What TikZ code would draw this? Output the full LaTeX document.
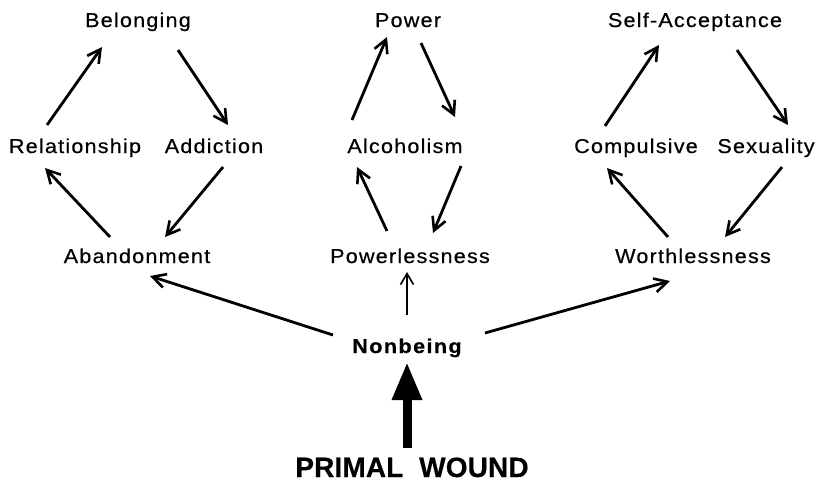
\documentclass[tikz,border=0pt]{standalone}
\usepackage{fontspec}
\setmainfont{Liberation Sans}
\newfontfamily\lbl[LetterSpace=6,FakeStretch=1.08,FakeBold=0.5]{Liberation Sans}
\newfontfamily\lblb[LetterSpace=7,FakeStretch=1.08,FakeBold=0.4]{Liberation Sans Bold}
\newfontfamily\ttl[LetterSpace=0.5,FakeBold=0.4]{Liberation Sans Bold}
\usetikzlibrary{arrows.meta,calc}
\begin{document}
\begin{tikzpicture}[x=1pt,y=-1pt,
  word/.style={anchor=base,inner sep=0pt,font=\lbl\fontsize{20}{22}\selectfont},
  bword/.style={anchor=base,inner sep=0pt,font=\lblb\fontsize{20}{22}\selectfont},
  title/.style={anchor=base,inner sep=0pt,font=\ttl\fontsize{28}{30}\selectfont},
  arr/.style={line width=2.8pt,-{Straight Barb[length=13pt,width=14pt,line width=2.6pt]}},
  thinarr/.style={line width=1.6pt,-{Straight Barb[length=11pt,width=13pt,line width=1.6pt]}},
  bigarr/.style={line width=9pt,-{Triangle[length=38pt,width=28pt]}}]
\useasboundingbox (0,0) rectangle (818,488);
% left cycle
\node[word] (bel) at (138,27) {Belonging};
\node[word] (rel) at (75,153) {Relationship};
\node[word] (add) at (214,153) {Addiction};
\node[word] (aba) at (137,263) {Abandonment};
% middle cycle
\node[word] (pow) at (408,27) {Power};
\node[word] (alc) at (405,153) {Alcoholism};
\node[word] (pwl) at (410,263) {Powerlessness};
% right cycle
\node[word] (sac) at (695,27) {Self-Acceptance};
\node[word] (com) at (636,153) {Compulsive};
\node[word] (sex) at (766,153) {Sexuality};
\node[word] (wor) at (693,263) {Worthlessness};
% bottom
\node[bword] (non) at (407,353) {Nonbeing};
\node[title] (pw) at (412,477) {PRIMAL\ \ WOUND};
% left arrows
\draw[arr] ($(rel.base)+(-28,-28)$) -- ($(bel.base)+(-36,20)$);
\draw[arr] ($(bel.base)+(40,23)$) -- ($(add.base)+(14,-28)$);
\draw[arr] ($(add.base)+(9,14)$) -- ($(aba.base)+(28,-26)$);
\draw[arr] ($(aba.base)+(-27,-26)$) -- ($(rel.base)+(-30,15)$);
% middle arrows
\draw[arr] ($(alc.base)+(-53,-33)$) -- ($(pow.base)+(-21,10)$);
\draw[arr] ($(pow.base)+(13,16)$) -- ($(alc.base)+(50,-36)$);
\draw[arr] ($(alc.base)+(56,13)$) -- ($(pwl.base)+(23,-30)$);
\draw[arr] ($(pwl.base)+(-23,-32)$) -- ($(alc.base)+(-48,14)$);
% right arrows
\draw[arr] ($(com.base)+(-31,-27)$) -- ($(sac.base)+(-36,18)$);
\draw[arr] ($(sac.base)+(42,23)$) -- ($(sex.base)+(22,-28)$);
\draw[arr] ($(sex.base)+(16,14)$) -- ($(wor.base)+(32,-26)$);
\draw[arr] ($(wor.base)+(-25,-26)$) -- ($(com.base)+(-29,15)$);
% from Nonbeing
\draw[arr] ($(non.base)+(-74,-18)$) -- ($(aba.base)+(13,13)$);
\draw[arr] ($(non.base)+(78,-20)$) -- ($(wor.base)+(-23,18)$);
\draw[thinarr] ($(non.base)+(0,-38)$) -- ($(pwl.base)+(-3,9)$);
\draw[bigarr] ($(pw.base)+(-5,-29)$) -- ($(non.base)+(0,9)$);
\end{tikzpicture}
\end{document}
